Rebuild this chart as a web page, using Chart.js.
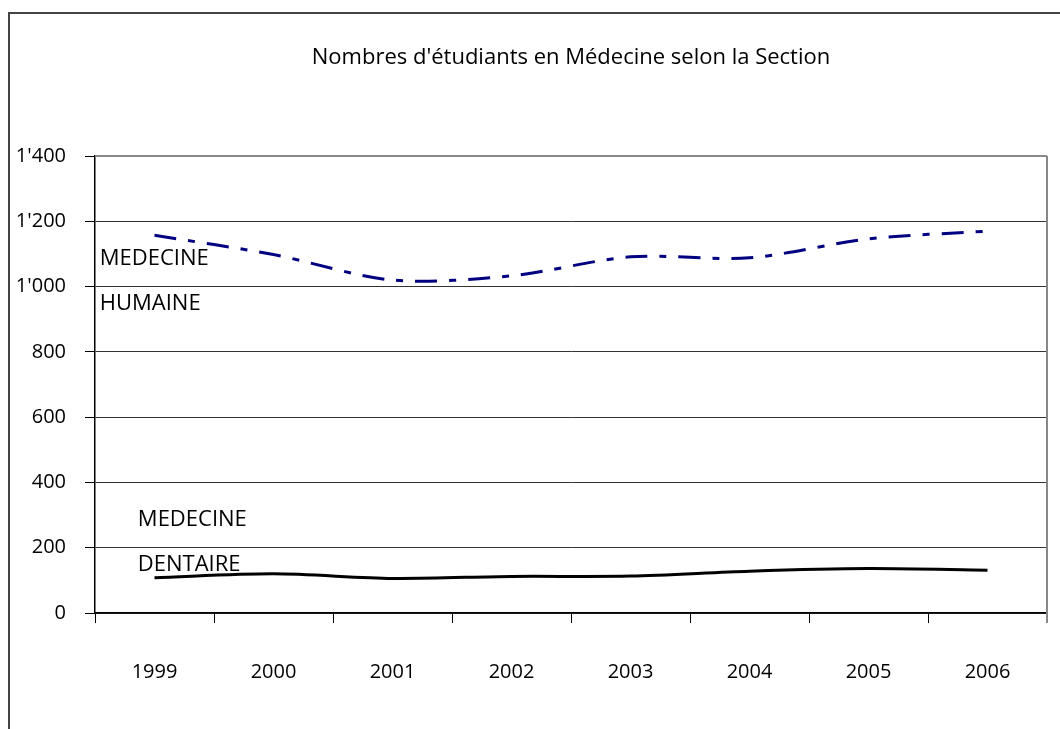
<!DOCTYPE html>
<html>
<head>
<meta charset="utf-8">
<script src="https://cdn.jsdelivr.net/npm/chart.js@4"></script>
<style>
  html, body { margin: 0; padding: 0; background: #fff; overflow: hidden; }
  #frame { position: absolute; left: 8px; top: 12px; width: 2000px; height: 2000px; border: 2px solid #444; }
  #wrap { position: absolute; left: 0; top: 0; width: 1060px; height: 729px; }
</style>
</head>
<body>
<div id="frame"></div>
<div id="wrap"><canvas id="chart1"></canvas></div>
<script>
var years = ['1999', '2000', '2001', '2002', '2003', '2004', '2005', '2006'];
var medecineHumaine = [1157, 1098, 1020, 1033, 1091, 1088, 1146, 1170];
var medecineDentaire = [108, 120, 106, 112, 113, 128, 136, 131];
var yTicks = [0, 200, 400, 600, 800, 1000, 1200, 1400];
var titleText = "Nombres d'étudiants en Médecine selon la Section";

// labels written inside the plot, anchored on data values
var seriesLabels = [
  { text: 'MEDECINE', x: -0.46, y: 1066 },
  { text: 'HUMAINE', x: -0.46, y: 928 },
  { text: 'MEDECINE', x: -0.14, y: 265 },
  { text: 'DENTAIRE', x: -0.14, y: 130 }
];

function fmt(v) {
  return v >= 1000 ? Math.floor(v / 1000) + "'" + String(v % 1000).padStart(3, '0') : String(v);
}

var extras = {
  id: 'extras',
  beforeDatasetsDraw: function(chart) {
    var ctx = chart.ctx, a = chart.chartArea;
    ctx.save();
    ctx.strokeStyle = '#888';
    ctx.lineWidth = 2;
    ctx.beginPath();
    ctx.moveTo(a.left, a.top);
    ctx.lineTo(a.right, a.top);
    ctx.moveTo(a.right, a.top);
    ctx.lineTo(a.right, a.bottom + 10);
    ctx.stroke();
    ctx.restore();
  },
  afterDatasetsDraw: function(chart) {
    var ctx = chart.ctx, a = chart.chartArea, xs = chart.scales.x, ys = chart.scales.y;
    ctx.save();
    ctx.fillStyle = '#000';
    ctx.font = '22px "Open Sans"';
    ctx.textBaseline = 'middle';
    ctx.textAlign = 'center';
    ctx.fillText(titleText, (a.left + a.right) / 2, 58);
    ctx.textBaseline = 'alphabetic';
    ctx.textAlign = 'left';
    seriesLabels.forEach(function(l) {
      ctx.fillText(l.text, xs.getPixelForValue(l.x), ys.getPixelForValue(l.y));
    });
    ctx.restore();
  }
};

Chart.defaults.font.family = '"Open Sans"';
Chart.defaults.color = '#000';

new Chart(document.getElementById('chart1'), {
  type: 'line',
  data: {
    labels: years,
    datasets: [{
      label: 'MEDECINE HUMAINE',
      data: medecineHumaine,
      borderColor: '#000080',
      borderWidth: 3,
      borderDash: [22, 12, 7, 12],
      pointRadius: 0,
      tension: 0.3,
      fill: false
    }, {
      label: 'MEDECINE DENTAIRE',
      data: medecineDentaire,
      borderColor: '#000',
      borderWidth: 3,
      pointRadius: 0,
      tension: 0.3,
      fill: false
    }]
  },
  options: {
    responsive: true,
    maintainAspectRatio: false,
    animation: false,
    layout: { padding: { left: 0, right: 13, top: 156, bottom: 0 } },
    plugins: {
      legend: { display: false },
      tooltip: { enabled: false },
      title: { display: false }
    },
    scales: {
      x: {
        offset: true,
        grid: { offset: true, drawOnChartArea: false, tickLength: 10, tickColor: '#000', tickWidth: 1 },
        border: { color: '#000', width: 1.5 },
        ticks: { font: { size: 20 }, padding: 37, maxRotation: 0 },
        afterFit: function(s) { s.height = 116; }
      },
      y: {
        min: 0,
        max: 1400,
        afterBuildTicks: function(s) { s.ticks = yTicks.map(function(v) { return { value: v }; }); },
        grid: { color: '#333', lineWidth: 1, tickLength: 10, tickColor: '#000' },
        border: { color: '#000', width: 1.5 },
        ticks: { font: { size: 20 }, padding: 19, callback: function(v) { return fmt(v); } },
        afterFit: function(s) { s.width = 95; }
      }
    }
  },
  plugins: [extras]
});
</script>
</body>
</html>
